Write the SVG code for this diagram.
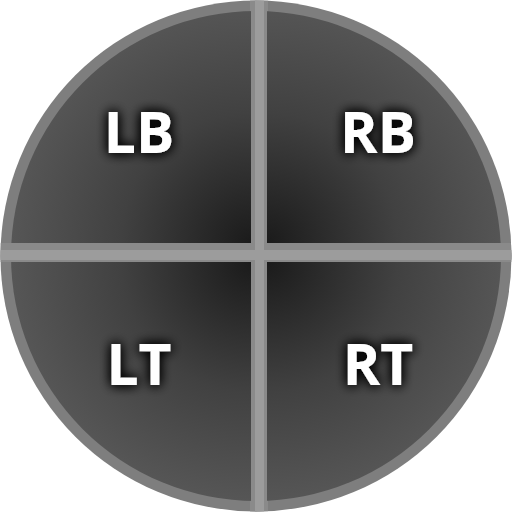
<svg xmlns="http://www.w3.org/2000/svg" width="512" height="512" viewBox="0 0 512 512">
  <defs>
    <clipPath id="inner"><circle cx="256" cy="256" r="245"/></clipPath>
    <clipPath id="outer"><circle cx="256" cy="256" r="255.5"/></clipPath>
    <radialGradient id="gTL" gradientUnits="userSpaceOnUse" cx="251" cy="243" r="260">
      <stop offset="0" stop-color="#1b1b1b"/><stop offset="0.5" stop-color="#414141"/><stop offset="1" stop-color="#5a5a5a"/>
    </radialGradient>
    <radialGradient id="gTR" gradientUnits="userSpaceOnUse" cx="267" cy="243" r="260">
      <stop offset="0" stop-color="#1b1b1b"/><stop offset="0.5" stop-color="#414141"/><stop offset="1" stop-color="#5a5a5a"/>
    </radialGradient>
    <radialGradient id="gBL" gradientUnits="userSpaceOnUse" cx="251" cy="262" r="260">
      <stop offset="0" stop-color="#1b1b1b"/><stop offset="0.5" stop-color="#414141"/><stop offset="1" stop-color="#5a5a5a"/>
    </radialGradient>
    <radialGradient id="gBR" gradientUnits="userSpaceOnUse" cx="267" cy="262" r="260">
      <stop offset="0" stop-color="#1b1b1b"/><stop offset="0.5" stop-color="#414141"/><stop offset="1" stop-color="#5a5a5a"/>
    </radialGradient>
    <filter id="glow" x="-50%" y="-50%" width="200%" height="200%">
      <feGaussianBlur in="SourceAlpha" stdDeviation="6" result="b"/>
      <feFlood flood-color="#000" flood-opacity="1"/>
      <feComposite in2="b" operator="in" result="s"/>
      <feMerge><feMergeNode in="s"/><feMergeNode in="s"/><feMergeNode in="SourceGraphic"/></feMerge>
    </filter>
  </defs>
  <style>
    .lbl { font-family: "Open Sans", "Noto Sans", "DejaVu Sans", sans-serif; font-weight: bold; font-size: 57px; fill: #ffffff; text-anchor: middle; filter: url(#glow); }
  </style>
  <circle cx="256" cy="256" r="255.5" fill="#7e7e7e"/>
  <g id="connectors" clip-path="url(#outer)">
    <rect x="250" y="0" width="18" height="512" fill="#8a8a8a"/>
    <rect x="0" y="243" width="512" height="19" fill="#8a8a8a"/>
    <rect x="255" y="0" width="9" height="512" fill="#9c9c9c"/>
    <rect x="0" y="250" width="512" height="10" fill="#9c9c9c"/>
  </g>
  <g clip-path="url(#inner)">
    <g id="LB">
      <rect x="0" y="0" width="251" height="243" fill="url(#gTL)"/>
      <text class="lbl" x="139" y="153">LB</text>
    </g>
    <g id="RB">
      <rect x="267" y="0" width="245" height="243" fill="url(#gTR)"/>
      <text class="lbl" x="378" y="153">RB</text>
    </g>
    <g id="LT">
      <rect x="0" y="262" width="251" height="250" fill="url(#gBL)"/>
      <text class="lbl" x="139" y="385">LT</text>
    </g>
    <g id="RT">
      <rect x="267" y="262" width="245" height="250" fill="url(#gBR)"/>
      <text class="lbl" x="378" y="385">RT</text>
    </g>
  </g>
</svg>
